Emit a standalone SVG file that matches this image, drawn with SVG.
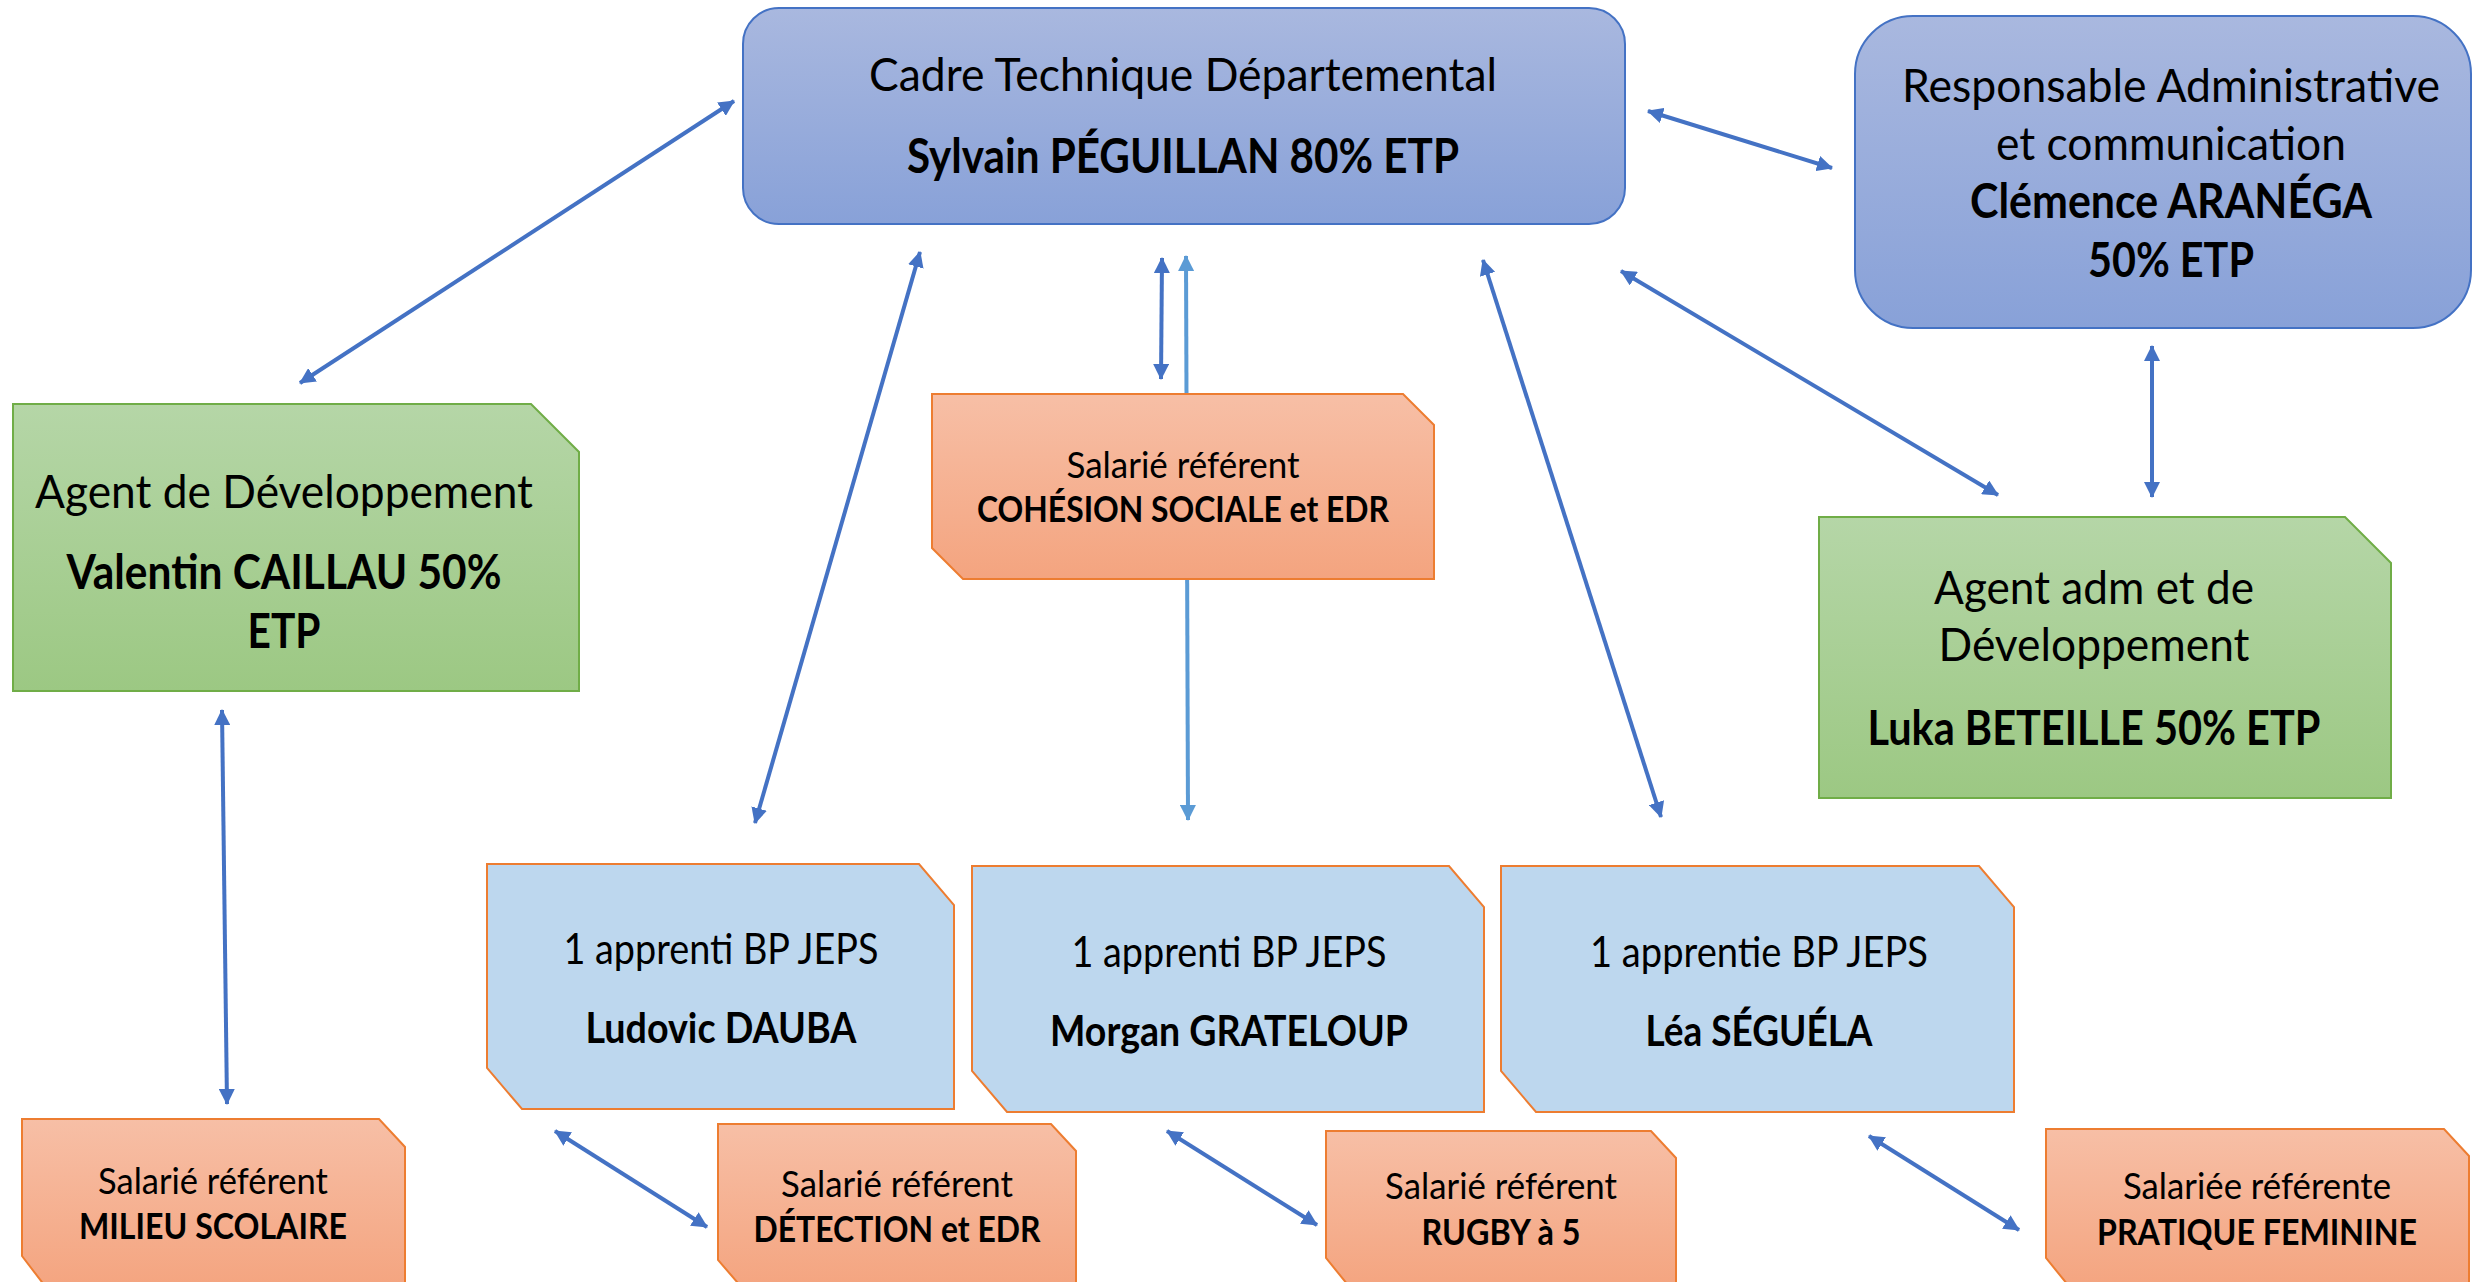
<svg xmlns="http://www.w3.org/2000/svg" width="2473" height="1282" viewBox="0 0 2473 1282">
<style>
text{font-family:Lato,"Liberation Sans",sans-serif;fill:#000;text-anchor:middle}
.big{font-size:47px}
.bigb{font-size:47px;font-weight:bold}
.mid{font-size:42px}
.midb{font-size:42px;font-weight:bold}
.sm{font-size:36px}
.smb{font-size:36px;font-weight:bold}
.blue{fill:url(#gBlue);stroke:#4472c4;stroke-width:2}
.green{fill:url(#gGreen);stroke:#70ad47;stroke-width:2}
.orange{fill:url(#gOrange);stroke:#ed7d31;stroke-width:2}
.light{fill:#bdd7ee;stroke:#ed7d31;stroke-width:2}
.c{fill:none;stroke:#4472c4;stroke-width:4;marker-start:url(#ah);marker-end:url(#ah)}
.c2{fill:none;stroke:#5b9bd5;stroke-width:4;marker-start:url(#ah2);marker-end:url(#ah2)}
</style>
<defs>
<linearGradient id="gBlue" x1="0" y1="0" x2="0" y2="1"><stop offset="0" stop-color="#a9b8df"/><stop offset="1" stop-color="#88a1d8"/></linearGradient>
<linearGradient id="gGreen" x1="0" y1="0" x2="0" y2="1"><stop offset="0" stop-color="#b5d6a7"/><stop offset="1" stop-color="#9cc883"/></linearGradient>
<linearGradient id="gOrange" x1="0" y1="0" x2="0" y2="1"><stop offset="0" stop-color="#f7bfa6"/><stop offset="1" stop-color="#f4a47f"/></linearGradient>
<marker id="ah" viewBox="0 0 16 16" refX="15" refY="8" markerWidth="16" markerHeight="16" markerUnits="userSpaceOnUse" orient="auto-start-reverse"><path d="M0,0 L16,8 L0,16 Z" fill="#4472c4"/></marker>
<marker id="ah2" viewBox="0 0 16 16" refX="15" refY="8" markerWidth="16" markerHeight="16" markerUnits="userSpaceOnUse" orient="auto-start-reverse"><path d="M0,0 L16,8 L0,16 Z" fill="#5b9bd5"/></marker>
</defs>
<rect width="2473" height="1282" fill="#fff"/>
<g id="connectors">
<line class="c" x1="734" y1="101" x2="300" y2="383"/>
<line class="c" x1="1648" y1="111" x2="1832" y2="168"/>
<line class="c" x1="920" y1="252" x2="755" y2="823"/>
<line class="c" x1="1162" y1="258" x2="1161" y2="379"/>
<line class="c2" x1="1186" y1="256" x2="1188" y2="820"/>
<line class="c" x1="1483" y1="260" x2="1661" y2="817"/>
<line class="c" x1="1621" y1="271" x2="1998" y2="495"/>
<line class="c" x1="2152" y1="346" x2="2152" y2="497"/>
<line class="c" x1="222" y1="710" x2="227" y2="1104"/>
<line class="c" x1="555" y1="1131" x2="707" y2="1227"/>
<line class="c" x1="1167" y1="1131" x2="1317" y2="1225"/>
<line class="c" x1="1869" y1="1136" x2="2019" y2="1230"/>
</g>
<g id="cadre">
<rect class="blue" x="743" y="8" width="882" height="216" rx="36"/>
<text class="big" x="1183" y="91" textLength="628" lengthAdjust="spacingAndGlyphs">Cadre Technique Départemental</text>
<text class="bigb" x="1183" y="173" textLength="552" lengthAdjust="spacingAndGlyphs">Sylvain PÉGUILLAN 80% ETP</text>
</g>
<g id="responsable">
<rect class="blue" x="1855" y="16" width="616" height="312" rx="58"/>
<text class="big" x="2171" y="102" textLength="538" lengthAdjust="spacingAndGlyphs">Responsable Administrative</text>
<text class="big" x="2171" y="160" textLength="350" lengthAdjust="spacingAndGlyphs">et communication</text>
<text class="bigb" x="2171" y="218" textLength="402" lengthAdjust="spacingAndGlyphs">Clémence ARANÉGA</text>
<text class="bigb" x="2171" y="277" textLength="166" lengthAdjust="spacingAndGlyphs">50% ETP</text>
</g>
<g id="agent-dev">
<path class="green" d="M13,404 H531 L579,452 V691 H13 Z"/>
<text class="big" x="284" y="508" textLength="498" lengthAdjust="spacingAndGlyphs">Agent de Développement</text>
<text class="bigb" x="284" y="589" textLength="435" lengthAdjust="spacingAndGlyphs">Valentin CAILLAU 50%</text>
<text class="bigb" x="284" y="648" textLength="73" lengthAdjust="spacingAndGlyphs">ETP</text>
</g>
<g id="cohesion">
<path class="orange" d="M932,394 H1403 L1434,425 V579 H963 L932,548 Z"/>
<text class="sm" x="1183" y="478" textLength="233" lengthAdjust="spacingAndGlyphs">Salarié référent</text>
<text class="smb" x="1183" y="522" textLength="412" lengthAdjust="spacingAndGlyphs">COHÉSION SOCIALE et EDR</text>
</g>
<g id="agent-adm">
<path class="green" d="M1819,517 H2345 L2391,563 V798 H1819 Z"/>
<text class="big" x="2094" y="604" textLength="320" lengthAdjust="spacingAndGlyphs">Agent adm et de</text>
<text class="big" x="2094" y="661" textLength="311" lengthAdjust="spacingAndGlyphs">Développement</text>
<text class="bigb" x="2094" y="745" textLength="453" lengthAdjust="spacingAndGlyphs">Luka BETEILLE 50% ETP</text>
</g>
<g id="ludovic">
<path class="light" d="M487,864 H919 L954,905 V1109 H522 L487,1068 Z"/>
<text class="mid" x="721" y="964" textLength="315" lengthAdjust="spacingAndGlyphs">1 apprenti BP JEPS</text>
<text class="midb" x="721" y="1043" textLength="271" lengthAdjust="spacingAndGlyphs">Ludovic DAUBA</text>
</g>
<g id="morgan">
<path class="light" d="M972,866 H1449 L1484,907 V1112 H1007 L972,1071 Z"/>
<text class="mid" x="1229" y="967" textLength="315" lengthAdjust="spacingAndGlyphs">1 apprenti BP JEPS</text>
<text class="midb" x="1229" y="1046" textLength="358" lengthAdjust="spacingAndGlyphs">Morgan GRATELOUP</text>
</g>
<g id="lea">
<path class="light" d="M1501,866 H1979 L2014,907 V1112 H1536 L1501,1071 Z"/>
<text class="mid" x="1759" y="967" textLength="338" lengthAdjust="spacingAndGlyphs">1 apprentie BP JEPS</text>
<text class="midb" x="1759" y="1046" textLength="227" lengthAdjust="spacingAndGlyphs">Léa SÉGUÉLA</text>
</g>
<g id="milieu">
<path class="orange" d="M22,1119 H379 L405,1147 V1290 H48 L22,1256 Z"/>
<text class="sm" x="213" y="1194" textLength="230" lengthAdjust="spacingAndGlyphs">Salarié référent</text>
<text class="smb" x="213" y="1239" textLength="268" lengthAdjust="spacingAndGlyphs">MILIEU SCOLAIRE</text>
</g>
<g id="detection">
<path class="orange" d="M718,1124 H1051 L1076,1151 V1290 H744 L718,1260 Z"/>
<text class="sm" x="897" y="1197" textLength="232" lengthAdjust="spacingAndGlyphs">Salarié référent</text>
<text class="smb" x="897" y="1242" textLength="287" lengthAdjust="spacingAndGlyphs">DÉTECTION et EDR</text>
</g>
<g id="rugby">
<path class="orange" d="M1326,1131 H1651 L1676,1158 V1290 H1352 L1326,1258 Z"/>
<text class="sm" x="1501" y="1199" textLength="232" lengthAdjust="spacingAndGlyphs">Salarié référent</text>
<text class="smb" x="1501" y="1245" textLength="159" lengthAdjust="spacingAndGlyphs">RUGBY à 5</text>
</g>
<g id="pratique">
<path class="orange" d="M2046,1129 H2444 L2469,1156 V1290 H2072 L2046,1258 Z"/>
<text class="sm" x="2257" y="1199" textLength="268" lengthAdjust="spacingAndGlyphs">Salariée référente</text>
<text class="smb" x="2257" y="1245" textLength="320" lengthAdjust="spacingAndGlyphs">PRATIQUE FEMININE</text>
</g>
</svg>
